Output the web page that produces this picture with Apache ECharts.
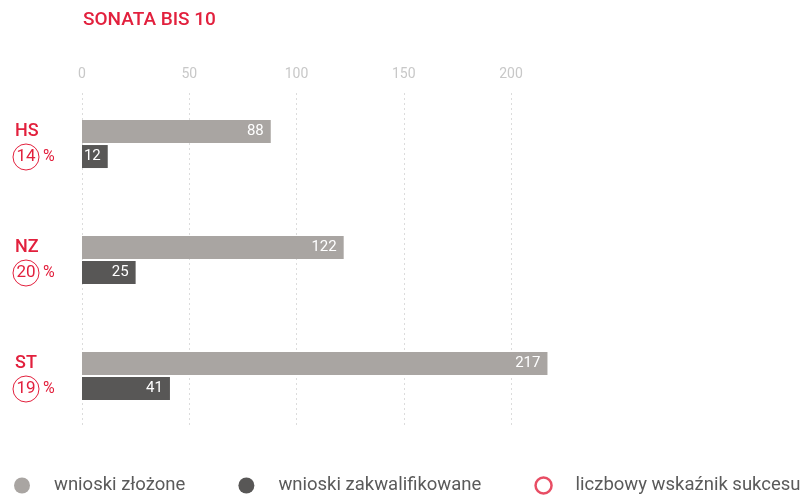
<!DOCTYPE html>
<html><head><meta charset="utf-8">
<script src="https://cdn.jsdelivr.net/npm/echarts@6/dist/echarts.min.js"></script>
<style>html,body{margin:0;padding:0;background:#fff}#c{width:809px;height:503px}</style>
</head><body><div id="c"></div>
<script>
const categories = ['HS', 'NZ', 'ST'];
const submitted = [88, 122, 217];
const qualified = [12, 25, 41];
const successRate = [14, 20, 19];
const xTicks = [0, 50, 100, 150, 200];
const legendNames = ['wnioski złożone', 'wnioski zakwalifikowane', 'liczbowy wskaźnik sukcesu'];

const RED = '#e2203d';
const FONT = 'Roboto, "DejaVu Sans", sans-serif';
const chart = echarts.init(document.getElementById('c'));

chart.setOption({
  animation: false,
  title: {
    text: 'SONATA BIS 10', left: 78, top: 6,
    textStyle: { color: RED, fontSize: 19, fontWeight: 500, fontFamily: FONT }
  },
  legend: {
    bottom: 3, left: 9, itemGap: 53, itemWidth: 16, itemHeight: 16,
    textStyle: { color: '#5a5a5a', fontSize: 18.5, fontFamily: FONT, padding: [0, 0, 0, 19] },
    data: [
      { name: legendNames[0], icon: 'circle' },
      { name: legendNames[1], icon: 'circle' },
      { name: legendNames[2], icon: 'circle', itemStyle: { color: '#fff', borderColor: RED, borderWidth: 2.5 } }
    ]
  },
  grid: [
    { left: 82, right: 298, top: 86, height: 348 },
    { left: 82, right: 298, top: 93, height: 335 }
  ],
  xAxis: [
    { gridIndex: 0, type: 'value', position: 'top', min: 0, max: 200, interval: 50,
      axisLine: { show: false }, axisTick: { show: false }, axisLabel: { show: false }, splitLine: { show: false } },
    { gridIndex: 1, type: 'value', position: 'top', min: 0, max: 200, interval: 50,
      axisLine: { show: false }, axisTick: { show: false },
      axisLabel: { color: '#c8c8c8', fontSize: 14, fontFamily: FONT, margin: 12,
        formatter: v => xTicks.includes(v) ? String(v) : '' },
      splitLine: { show: true, lineStyle: { color: '#dcdcdc', type: [2, 3], width: 1 } } }
  ],
  yAxis: [
    { gridIndex: 0, type: 'category', data: categories, inverse: true,
      axisLine: { show: false }, axisTick: { show: false },
      axisLabel: {
        align: 'left', margin: 69,
        formatter: (v, i) => '{n|' + v + '}\n{c|' + successRate[i] + '}{p|%}',
        rich: {
          n: { color: RED, fontSize: 18, fontFamily: FONT, fontWeight: 500, lineHeight: 26, padding: [0, 0, 0, 2] },
          c: { color: RED, fontSize: 17, fontFamily: FONT, width: 26, height: 26, align: 'center',
               borderColor: RED, borderWidth: 1, borderRadius: 14, lineHeight: 26 },
          p: { color: RED, fontSize: 16, fontFamily: FONT, padding: [0, 0, 0, 4] }
        }
      } },
    { gridIndex: 1, type: 'category', data: categories, show: false }
  ],
  series: [
    { name: legendNames[0], type: 'bar', xAxisIndex: 0, yAxisIndex: 0, data: submitted,
      barWidth: 23, barGap: '9%', clip: false, itemStyle: { color: '#a9a5a2' },
      label: { show: true, position: 'insideRight', color: '#fff', fontSize: 15, fontFamily: FONT, distance: 7 } },
    { name: legendNames[1], type: 'bar', xAxisIndex: 0, yAxisIndex: 0, data: qualified,
      barWidth: 23, clip: false, itemStyle: { color: '#585756' },
      label: { show: true, position: 'insideRight', color: '#fff', fontSize: 15, fontFamily: FONT, distance: 7 } },
    { name: legendNames[2], type: 'scatter', xAxisIndex: 0, yAxisIndex: 0, data: [],
      itemStyle: { color: '#fff', borderColor: RED, borderWidth: 2.5 } }
  ]
});
</script></body></html>
